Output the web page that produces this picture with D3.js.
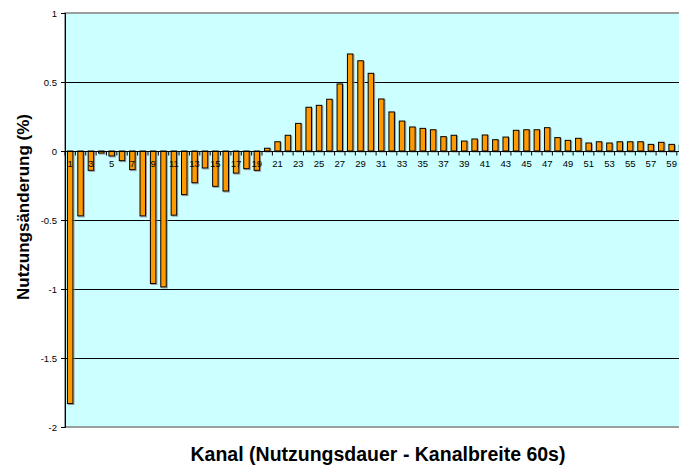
<!DOCTYPE html>
<html>
<head>
<meta charset="utf-8">
<script src="https://cdn.jsdelivr.net/npm/d3@7"></script>
<style>
  body { margin: 0; background: #fff; }
  text { font-family: "Liberation Sans", Arial, sans-serif; }
</style>
</head>
<body>
<div class="canvas"></div>
<script>
// channel numbers 1..60 (chart is cut off at the right, 60 only half visible)
const channels = [
  1, 2, 3, 4, 5, 6, 7, 8, 9, 10, 11, 12, 13, 14, 15, 16, 17, 18, 19, 20,
  21, 22, 23, 24, 25, 26, 27, 28, 29, 30, 31, 32, 33, 34, 35, 36, 37, 38, 39, 40,
  41, 42, 43, 44, 45, 46, 47, 48, 49, 50, 51, 52, 53, 54, 55, 56, 57, 58, 59, 60
];
const changes = [
  -1.83, -0.47, -0.14, -0.015, -0.036, -0.07, -0.135, -0.47, -0.96, -0.985,
  -0.465, -0.316, -0.23, -0.123, -0.256, -0.29, -0.16, -0.128, -0.14, 0.02,
  0.067, 0.114, 0.2, 0.317, 0.331, 0.375, 0.486, 0.703, 0.654, 0.563,
  0.377, 0.283, 0.217, 0.174, 0.164, 0.154, 0.104, 0.114, 0.072, 0.087,
  0.116, 0.082, 0.101, 0.15, 0.154, 0.154, 0.169, 0.097, 0.077, 0.092,
  0.058, 0.067, 0.058, 0.067, 0.067, 0.067, 0.048, 0.063, 0.048, 0.045
];
const yTicks = [1, 0.5, 0, -0.5, -1, -1.5, -2];

const width = 679;
const height = 465;

const svg = d3
  .select(".canvas")
  .append("svg")
  .attr("width", width)
  .attr("height", height);

const plotLeft = 65;
const plotTop = 13;
const plotBottom = 427;
const plotRight = plotLeft + channels.length * 10.37;

const xScale = d3
  .scaleBand()
  .domain(channels)
  .range([plotLeft, plotRight])
  .paddingInner(0.47)
  .paddingOuter(0.235);

const yScale = d3.scaleLinear().domain([-2, 1]).range([plotBottom, plotTop]);

// plot background
svg
  .append("rect")
  .attr("x", plotLeft)
  .attr("y", plotTop)
  .attr("width", plotRight - plotLeft)
  .attr("height", plotBottom - plotTop)
  .attr("fill", "#ccffff")
  .attr("stroke", "#808080")
  .attr("stroke-width", 1.5);

// gridlines
svg
  .append("g")
  .selectAll("line")
  .data(yTicks.filter((d) => d !== 1 && d !== -2 && d !== 0))
  .enter()
  .append("line")
  .attr("x1", plotLeft)
  .attr("x2", plotRight)
  .attr("y1", (d) => Math.round(yScale(d)) + 0.5)
  .attr("y2", (d) => Math.round(yScale(d)) + 0.5)
  .attr("stroke", "#000")
  .attr("stroke-width", 1);

// y axis
const yAxis = svg
  .append("g")
  .attr("transform", `translate(${plotLeft},0)`)
  .call(
    d3
      .axisLeft(yScale)
      .tickValues(yTicks)
      .tickSize(4)
      .tickFormat((d) => String(d))
  );
yAxis.select(".domain").attr("stroke", "#000");
yAxis.selectAll("text").attr("font-size", 9.5).attr("fill", "#000").attr("dx", -1);

// bar shadows then bars
svg
  .append("g")
  .selectAll("rect")
  .data(changes)
  .enter()
  .append("rect")
  .attr("x", (d, i) => xScale(channels[i]) + 1)
  .attr("y", (d) => yScale(Math.max(0, d)) + 1)
  .attr("width", xScale.bandwidth())
  .attr("height", (d) => Math.abs(yScale(d) - yScale(0)))
  .attr("fill", "none")
  .attr("stroke", "#9a9a9a")
  .attr("stroke-width", 1);

svg
  .append("g")
  .selectAll("rect")
  .data(changes)
  .enter()
  .append("rect")
  .attr("x", (d, i) => xScale(channels[i]))
  .attr("y", (d) => yScale(Math.max(0, d)))
  .attr("width", xScale.bandwidth())
  .attr("height", (d) => Math.abs(yScale(d) - yScale(0)))
  .attr("fill", "#ff9900")
  .attr("stroke", "#000")
  .attr("stroke-width", 1);

// x axis along zero, ticks between categories
const zeroY = Math.round(yScale(0)) + 0.5;
svg
  .append("line")
  .attr("x1", plotLeft)
  .attr("x2", plotRight)
  .attr("y1", zeroY)
  .attr("y2", zeroY)
  .attr("stroke", "#000")
  .attr("stroke-width", 1);

const step = xScale.step();
svg
  .append("g")
  .selectAll("line")
  .data(channels)
  .enter()
  .append("line")
  .attr("x1", (d) => xScale(d) - step * 0.235)
  .attr("x2", (d) => xScale(d) - step * 0.235)
  .attr("y1", zeroY)
  .attr("y2", zeroY + 4)
  .attr("stroke", "#000");

svg
  .append("g")
  .selectAll("text")
  .data(channels.filter((d) => d % 2 === 1))
  .enter()
  .append("text")
  .text((d) => d)
  .attr("x", (d) => xScale(d) + xScale.bandwidth() / 2)
  .attr("y", zeroY + 15)
  .attr("text-anchor", "middle")
  .attr("font-size", 9.5)
  .attr("fill", "#000");

// axis titles
svg
  .append("text")
  .text("Nutzungsänderung (%)")
  .attr("transform", "translate(29,207) rotate(-90)")
  .attr("text-anchor", "middle")
  .attr("font-size", 17)
  .attr("font-weight", "bold");

svg
  .append("text")
  .text("Kanal (Nutzungsdauer - Kanalbreite 60s)")
  .attr("x", 378)
  .attr("y", 461)
  .attr("text-anchor", "middle")
  .attr("font-size", 19.5)
  .attr("font-weight", "bold");
</script>
</body>
</html>
